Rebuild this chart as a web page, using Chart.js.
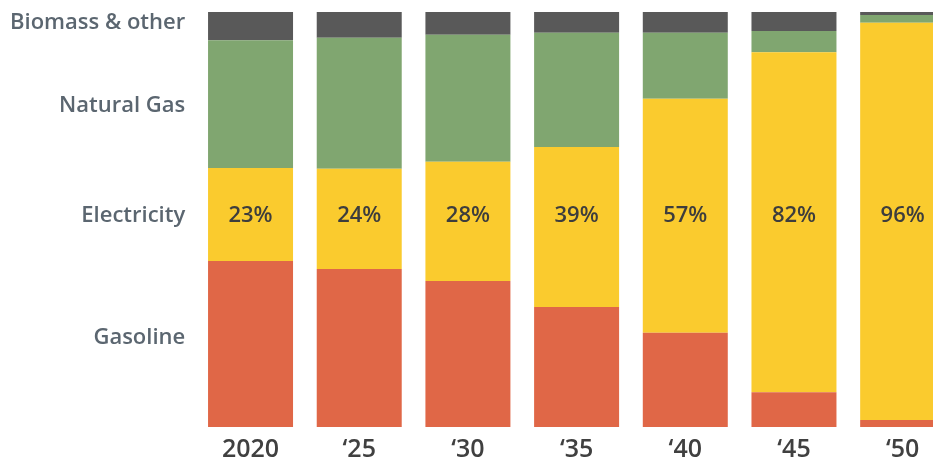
<!DOCTYPE html>
<html lang="en">
<head>
    <meta charset="UTF-8">
    <title>Energy mix</title>
    <style>
        html, body {
            margin: 0;
            padding: 0;
            background: #fff;
            overflow: hidden;
        }
        .container {
            width: 957px;
            height: 462px;
        }
    </style>
</head>
<body>
    <div class="container">
        <canvas id="mix-chart"></canvas>
    </div>
    <script src="https://cdn.jsdelivr.net/npm/chart.js"></script>

    <script>
        // DATA (shares in %)

        const years = ['2020', '‘25', '‘30', '‘35', '‘40', '‘45', '‘50'];

        const gasoline    = [40.0, 38.1, 35.2, 28.9, 22.7,  8.4,  1.7];
        const electricity = [22.4, 24.1, 28.7, 38.6, 56.4, 81.9, 95.7];
        const naturalGas  = [30.8, 31.6, 30.6, 27.5, 15.9,  5.1,  1.9];
        const biomass     = [ 6.8,  6.2,  5.5,  5.0,  5.0,  4.6,  0.7];

        const electricityLabels = ['23%', '24%', '28%', '39%', '57%', '82%', '96%'];

        // left-hand labels and where they sit on the 0-100 scale
        const seriesLabels = ['Gasoline', 'Electricity', 'Natural Gas', 'Biomass & other'];
        const seriesLabelPos = [21.5, 50.8, 77.5, 97.5];
    </script>

    <script>
        const FONT = "'Open Sans', 'DejaVu Sans', sans-serif";

        // writes the electricity share on each bar, on the "Electricity" row
        const shareLabels = {
            id: 'shareLabels',
            afterDatasetsDraw(chart) {
                const ctx = chart.ctx;
                const meta = chart.getDatasetMeta(1);
                const y = chart.scales.y.getPixelForValue(seriesLabelPos[1]);
                ctx.save();
                ctx.font = '600 22px ' + FONT;
                ctx.fillStyle = '#3d3d3d';
                ctx.textAlign = 'center';
                ctx.textBaseline = 'middle';
                meta.data.forEach((bar, i) => {
                    ctx.fillText(electricityLabels[i], bar.x, y);
                });
                ctx.restore();
            }
        };

        const config = {
            type: 'bar',
            data: {
                labels: years,
                datasets: [
                    { label: 'Gasoline', data: gasoline, backgroundColor: '#e06747' },
                    { label: 'Electricity', data: electricity, backgroundColor: '#facb2e' },
                    { label: 'Natural Gas', data: naturalGas, backgroundColor: '#80a670' },
                    { label: 'Biomass & other', data: biomass, backgroundColor: '#595959' }
                ]
            },
            options: {
                responsive: true,
                maintainAspectRatio: false,
                animation: false,
                layout: {
                    padding: { top: 12, bottom: 0, left: 0, right: 0 }
                },
                datasets: {
                    bar: {
                        barPercentage: 0.782,
                        categoryPercentage: 1,
                        borderWidth: 0
                    }
                },
                scales: {
                    x: {
                        stacked: true,
                        grid: { display: false, drawTicks: false },
                        border: { display: false },
                        ticks: {
                            color: '#404040',
                            font: { family: FONT, size: 25, weight: '600' },
                            padding: 8
                        },
                        afterFit: (axis) => { axis.height = 35; }
                    },
                    y: {
                        stacked: true,
                        min: 0,
                        max: 100,
                        grid: { display: false, drawTicks: false },
                        border: { display: false },
                        afterBuildTicks: (axis) => {
                            axis.ticks = seriesLabelPos.map(v => ({ value: v }));
                        },
                        ticks: {
                            autoSkip: false,
                            color: '#5b6670',
                            padding: 11,
                            font: { family: FONT, size: 22, weight: '600' },
                            callback: (value, index) => seriesLabels[index]
                        },
                        afterFit: (axis) => {
                            axis.width = 196.2;
                            axis.paddingTop = 0;
                            axis.paddingBottom = 0;
                        }
                    }
                },
                plugins: {
                    legend: { display: false },
                    tooltip: { enabled: false }
                }
            },
            plugins: [shareLabels]
        };

        new Chart(document.getElementById('mix-chart'), config);
    </script>
</body>
</html>
